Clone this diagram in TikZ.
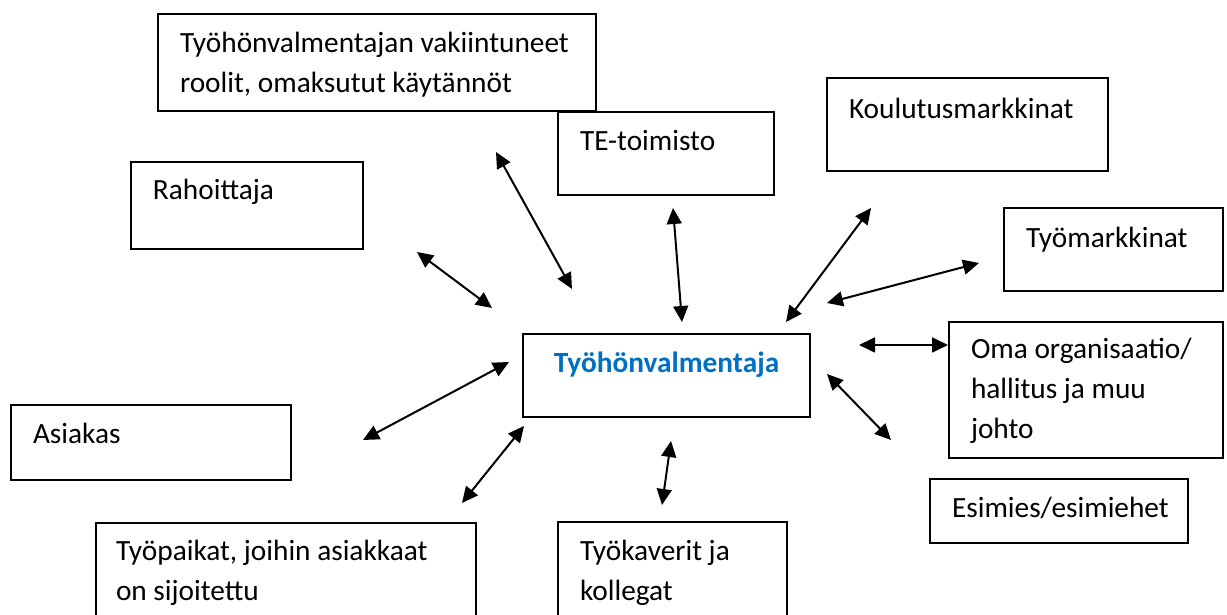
\documentclass[tikz,border=0pt]{standalone}
\usepackage{fontspec}
\setmainfont{Carlito}
\usetikzlibrary{arrows.meta}
\definecolor{valmblue}{RGB}{0,112,192}
\newlength{\pxu}
\setlength{\pxu}{0.375pt}

\begin{document}
\begin{tikzpicture}[x=\pxu,y=-\pxu,>={Triangle[length=6pt,width=5.6pt]},font=\fontsize{11}{15}\selectfont,
  box/.style={draw,line width=0.75pt,anchor=north west,align=flush left,inner xsep=22\pxu,inner ysep=0pt},
  link/.style={<->,line width=0.75pt}]
  \useasboundingbox (0,0) rectangle (1227,615);
  \clip (0,0) rectangle (1227,615);
  % surrounding boxes (top row)
  \node[box,text width=394\pxu,text height=39\pxu,text depth=58\pxu] (roolit) at (157,13)
    {Työhönvalmentajan vakiintuneet\\roolit, omaksutut käytännöt};
  \node[box,text width=172\pxu,text height=39\pxu,text depth=44\pxu] (te) at (557,111) {TE-toimisto};
  \node[box,text width=237\pxu,text height=41\pxu,text depth=52\pxu] (koulutus) at (826,77) {Koulutusmarkkinat};
  \node[box,text width=188\pxu,text height=38\pxu,text depth=49\pxu] (rahoittaja) at (130,161) {Rahoittaja};
  \node[box,text width=175\pxu,text height=40\pxu,text depth=43\pxu] (tyomarkkinat) at (1003,207) {Työmarkkinat};
  % centre
  \node[box,align=center,text width=243\pxu,text height=39\pxu,text depth=44\pxu,
    text=valmblue,font=\fontsize{11}{15}\selectfont\bfseries] (valm) at (522,333) {Työhönvalmentaja};
  % right side
  \node[box,text width=230\pxu,text height=37\pxu,text depth=99\pxu] (oma) at (948,321)
    {Oma organisaatio/\\hallitus ja muu\\johto};
  \node[box,text width=214\pxu,text height=39\pxu,text depth=25\pxu] (esimies) at (929,478) {Esimies/esimiehet};
  % left and bottom (cut off by the page edge)
  \node[box,text width=236\pxu,text height=39\pxu,text depth=36\pxu] (asiakas) at (10,404) {Asiakas};
  \node[box,inner xsep=20\pxu,text width=340\pxu,text height=38\pxu,text depth=100\pxu] (tyopaikat) at (95,522)
    {Työpaikat, joihin asiakkaat\\on sijoitettu};
  \node[box,text width=185\pxu,text height=39\pxu,text depth=100\pxu] (tyokaverit) at (557,521)
    {Työkaverit ja\\kollegat};
  % arrow ends (free, in the gaps)
  \coordinate (roolit-a) at (496,152);       \coordinate (roolit-b) at (572,289);
  \coordinate (rahoittaja-a) at (417,252);   \coordinate (rahoittaja-b) at (492,308);
  \coordinate (te-a) at (673,208);           \coordinate (te-b) at (682,322);
  \coordinate (koulutus-a) at (871,208);     \coordinate (koulutus-b) at (786,322);
  \coordinate (tyomarkkinat-a) at (979,263); \coordinate (tyomarkkinat-b) at (827,303);
  \coordinate (oma-a) at (948,345);          \coordinate (oma-b) at (859,345);
  \coordinate (esimies-a) at (891,440);      \coordinate (esimies-b) at (827,374);
  \coordinate (asiakas-a) at (363,440);      \coordinate (asiakas-b) at (509,362);
  \coordinate (tyopaikat-a) at (462,503);    \coordinate (tyopaikat-b) at (524,426);
  \coordinate (tyokaverit-a) at (662,505);   \coordinate (tyokaverit-b) at (671,441);
  % two-way arrows
  \draw[link] (roolit-a) -- (roolit-b);
  \draw[link] (rahoittaja-a) -- (rahoittaja-b);
  \draw[link] (te-a) -- (te-b);
  \draw[link] (koulutus-a) -- (koulutus-b);
  \draw[link] (tyomarkkinat-a) -- (tyomarkkinat-b);
  \draw[link] (oma-a) -- (oma-b);
  \draw[link] (esimies-a) -- (esimies-b);
  \draw[link] (asiakas-a) -- (asiakas-b);
  \draw[link] (tyopaikat-a) -- (tyopaikat-b);
  \draw[link] (tyokaverit-a) -- (tyokaverit-b);
\end{tikzpicture}
\end{document}
